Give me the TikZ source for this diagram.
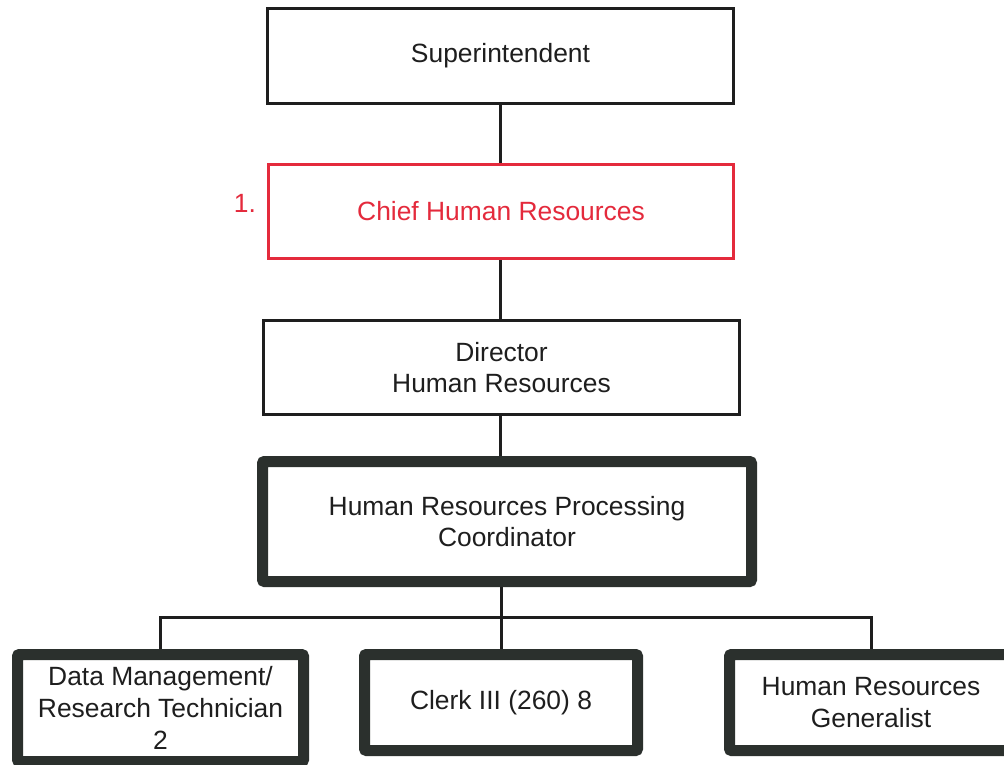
\documentclass[tikz,border=0pt]{standalone}
\usepackage{fontspec}
\setmainfont{Liberation Sans}
\definecolor{ink}{HTML}{1E1E1E}
\definecolor{heavy}{HTML}{2B302D}
\definecolor{hrred}{HTML}{E42A3C}
\begin{document}
\begin{tikzpicture}[x=1pt,y=-1pt,
  every node/.style={font=\fontsize{26.4}{31.7}\selectfont, text=ink, align=center, inner sep=0pt},
  thinbox/.style={draw=ink, line width=3pt, fill=white},
  redbox/.style={draw=hrred, line width=3pt, text=hrred, fill=white},
  heavybox/.style={draw=heavy, line width=11pt, rounded corners=2pt, fill=white},
  conn/.style={draw=ink, line width=3pt}]
\useasboundingbox (0,0) rectangle (1004,764);
\fill[white] (0,0) rectangle (1004,764);
\coordinate (axis) at (500,0);
\coordinate (bus) at (500,617);
\node[thinbox, minimum width=466pt, minimum height=95pt] (sup) at (500.5,56) {Superintendent};
\node[redbox, minimum width=465pt, minimum height=94pt] (chief) at (501,211.5) {Chief Human Resources};
\node[text=hrred] (num) at (245,203) {1.};
\node[thinbox, minimum width=476pt, minimum height=94pt] (dir) at (501.5,367.5) {Director\\Human Resources};
\node[heavybox, minimum width=489pt, minimum height=120pt] (hrpc) at (507,521.5) {Human Resources Processing\\Coordinator};
\node[heavybox, minimum width=286pt, minimum height=107pt] (dm) at (160.5,708) {Data Management/\\Research Technician\\2};
\node[heavybox, minimum width=273pt, minimum height=96pt] (clerk) at (501,702.5) {Clerk III (260) 8};
\node[heavybox, minimum width=283pt, minimum height=96pt] (gen) at (871,702.5) {Human Resources\\Generalist};
\draw[conn] (sup.south -| axis) -- (chief.north -| axis);
\draw[conn] (chief.south -| axis) -- (dir.north -| axis);
\draw[conn] (dir.south -| axis) -- (hrpc.north -| axis);
\draw[conn] (hrpc.south -| clerk.north) -- (clerk.north);
\draw[conn] (dm.north) |- (bus) -| (gen.north);
\end{tikzpicture}
\end{document}
